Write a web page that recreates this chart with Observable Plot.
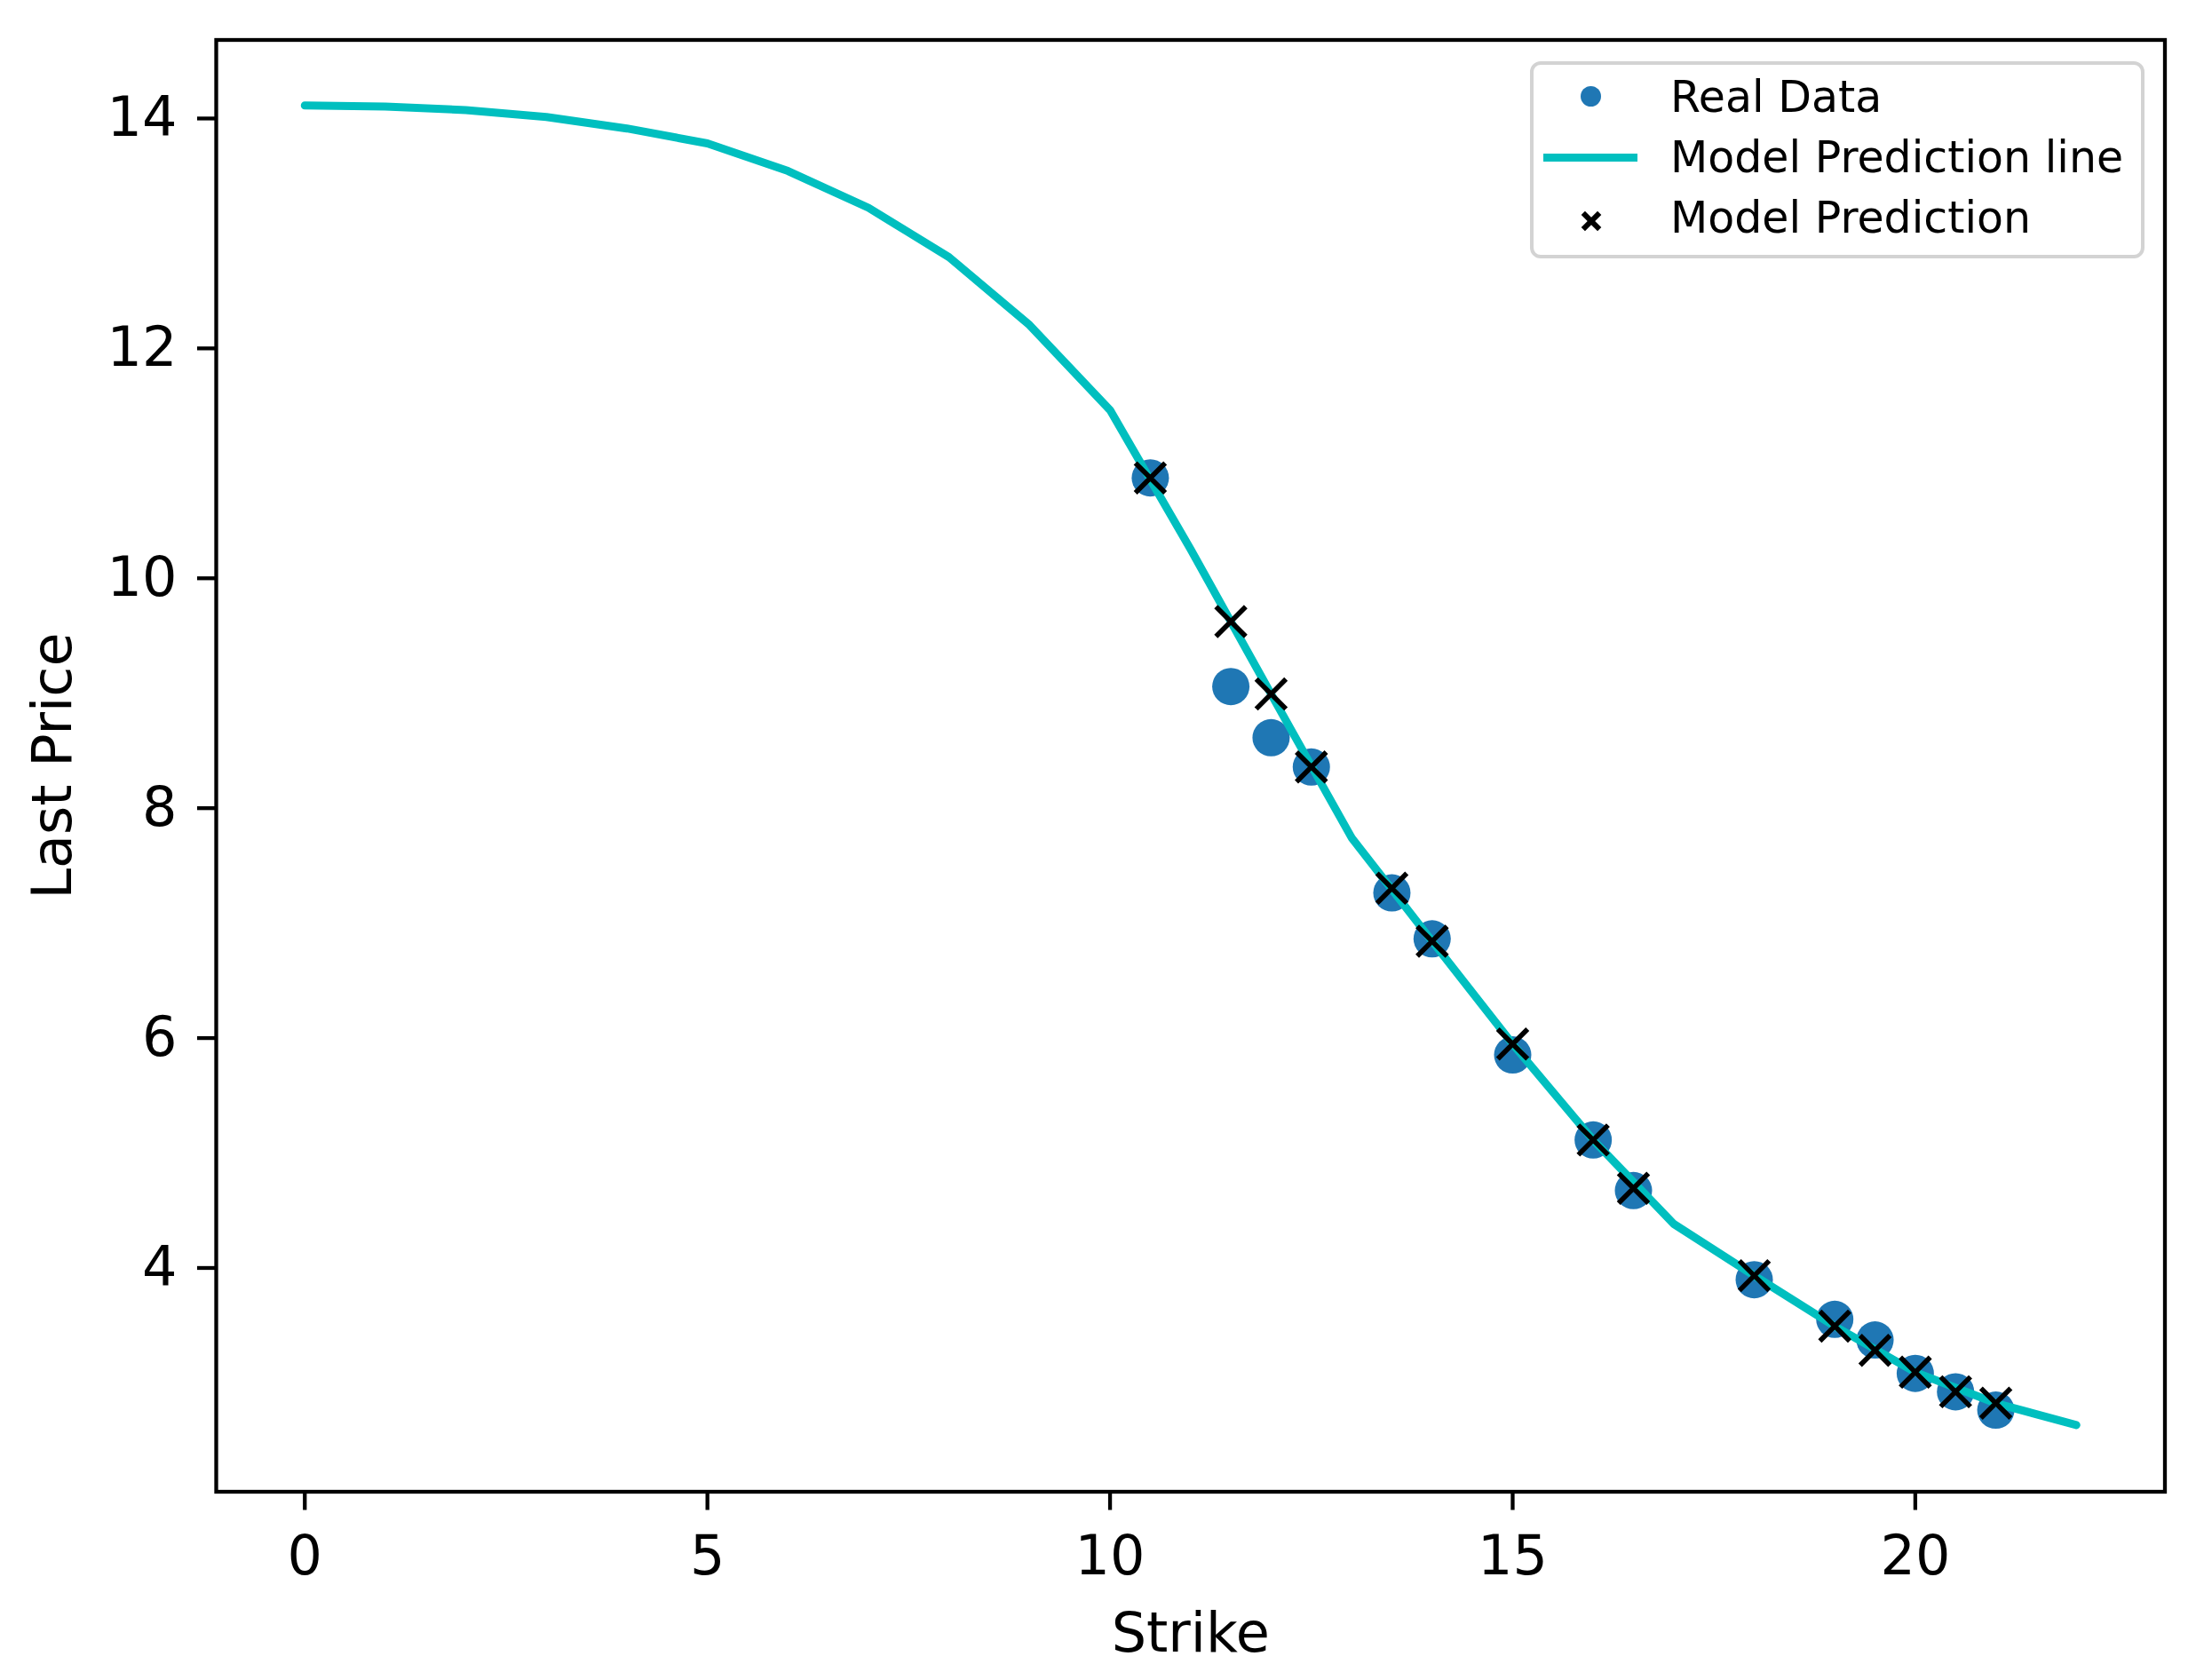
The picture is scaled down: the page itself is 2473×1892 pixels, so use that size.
<!DOCTYPE html>
<html>
<head>
<meta charset="utf-8">
<script src="https://cdn.jsdelivr.net/npm/d3@7"></script>
<script src="https://cdn.jsdelivr.net/npm/@observablehq/plot@0.6"></script>
<style>
  html, body { margin: 0; padding: 0; background: #ffffff; }
  #wrap { position: relative; width: 2473px; height: 1892px; font-family: "DejaVu Sans", sans-serif; }
  #legend { position: absolute; left: 1723px; top: 69px; width: 692px; height: 222px; box-sizing: border-box;
            border: 4px solid #d3d3d3; border-radius: 12px; background: rgba(255,255,255,0.8); }
  #legend .txt { position: absolute; left: 154px; font-size: 49px; line-height: 49px; color: #000; white-space: nowrap; }
  #legend .dot { position: absolute; width: 23px; height: 23px; border-radius: 50%; background: #1f77b4; }
  #legend .ln { position: absolute; height: 9px; background: #00bfbf; }
  #legend .cross { position: absolute; width: 20px; height: 20px; }
  #legend .cross::before, #legend .cross::after { content: ""; position: absolute; left: -3px; top: 7px; width: 26px; height: 6px; background: #000; }
  #legend .cross::before { transform: rotate(45deg); }
  #legend .cross::after { transform: rotate(-45deg); }
</style>
</head>
<body>
<div id="wrap"></div>
<script>
// Model prediction line (sampled strikes)
const lineStrike = [0, 1, 2, 3, 4, 5, 6, 7, 8, 9, 10, 11, 12, 13, 14, 15, 16, 17, 18, 19, 20, 21, 22];
const linePrice  = [14.09, 14.08, 14.05, 13.99, 13.89, 13.76, 13.52, 13.20, 12.77, 12.18, 11.44, 10.23, 8.97, 7.72, 6.82, 5.925, 5.09, 4.36, 3.91, 3.47, 3.07, 2.80, 2.61];

// Real data strikes and prices
const realStrike = [10.5, 11.5, 12, 12.5, 13.5, 14, 15, 16, 16.5, 18, 19, 19.5, 20, 20.5, 21];
const realPrice  = [10.85, 9.035, 8.59, 8.335, 7.24, 6.84, 5.83, 5.09, 4.65, 3.875, 3.53, 3.35, 3.06, 2.90, 2.74];
// Model prediction at the real strikes
const predPrice  = [10.85, 9.60, 8.97, 8.335, 7.28, 6.82, 5.925, 5.09, 4.67, 3.91, 3.47, 3.26, 3.07, 2.90, 2.80];

const xTicks = [0, 5, 10, 15, 20];
const yTicks = [4, 6, 8, 10, 12, 14];

const lineData = lineStrike.map((s, i) => ({strike: s, price: linePrice[i]}));
const realData = realStrike.map((s, i) => ({strike: s, price: realPrice[i]}));
const predData = realStrike.map((s, i) => ({strike: s, price: predPrice[i]}));

const chart = Plot.plot({
  width: 2473,
  height: 1892,
  marginLeft: 243,
  marginRight: 35.5,
  marginTop: 44.5,
  marginBottom: 212.5,
  style: {fontFamily: "DejaVu Sans", fontSize: "62px", color: "#000", background: "#fff", overflow: "visible"},
  x: {domain: [-1.1, 23.1]},
  y: {domain: [2.03, 14.66]},
  marks: [
    Plot.axisX({ticks: xTicks, tickFormat: d => String(d), tickSize: 21, tickPadding: 28, strokeWidth: 4.3,
                fontSize: 62, label: "Strike", labelAnchor: "center", labelArrow: "none", labelOffset: 180}),
    Plot.axisY({ticks: yTicks, tickFormat: d => String(d), tickSize: 21, tickPadding: 23, strokeWidth: 4.3,
                fontSize: 62, dy: 3, label: "Last Price", labelAnchor: "center", labelArrow: "none", labelOffset: 208}),
    Plot.dot(realData, {x: "strike", y: "price", r: 21, fill: "#1f77b4", stroke: null}),
    Plot.line(lineData, {x: "strike", y: "price", stroke: "#00bfbf", strokeWidth: 9}),
    Plot.dot(predData, {x: "strike", y: "price", symbol: "times", r: 15.3, stroke: "#000", strokeWidth: 5.6}),
    Plot.frame({stroke: "#000", strokeWidth: 4.3})
  ]
});

const wrap = document.getElementById("wrap");
wrap.appendChild(chart);

const legend = document.createElement("div");
legend.id = "legend";
legend.innerHTML = `
  <div class="dot" style="left:53px; top:23.7px;"></div>
  <div class="ln" style="left:11px; width:105.5px; top:99.7px;"></div>
  <div class="cross" style="left:54.5px; top:165.8px;"></div>
  <span class="txt" style="top:11.5px;">Real Data</span>
  <span class="txt" style="top:79.5px;">Model Prediction line</span>
  <span class="txt" style="top:148.2px;">Model Prediction</span>
`;
wrap.appendChild(legend);
</script>
</body>
</html>
